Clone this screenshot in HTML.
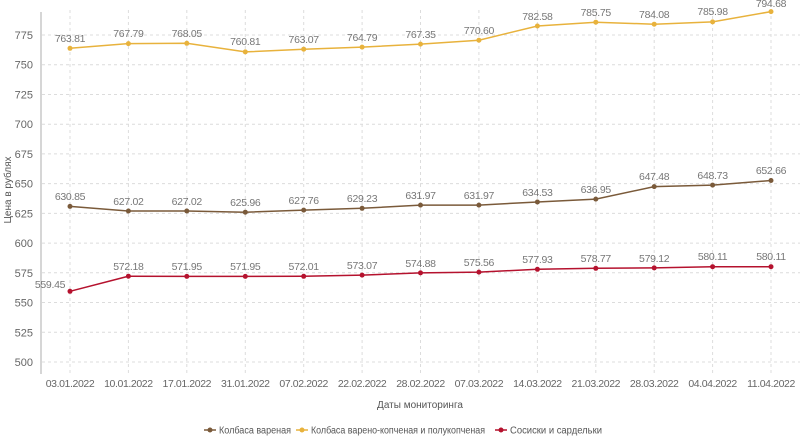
<!DOCTYPE html>
<html><head><meta charset="utf-8"><style>
body{margin:0;background:#fff;}
svg{display:block;font-family:"Liberation Sans",sans-serif;}
.g{stroke:#dcdcdc;stroke-dasharray:3,3;stroke-width:1;}
.yl{font-size:11px;fill:#666;text-anchor:end;}
.xl{font-size:10.5px;fill:#666;text-anchor:middle;letter-spacing:-0.4px;}
.dl{font-size:10.5px;fill:#777;text-anchor:middle;letter-spacing:-0.3px;}
</style></head><body>
<svg width="800" height="437" viewBox="0 0 800 437">
<g class="g">
<line x1="42" x2="800" y1="35" y2="35"/><line x1="42" x2="800" y1="64.7" y2="64.7"/><line x1="42" x2="800" y1="94.5" y2="94.5"/><line x1="42" x2="800" y1="124.2" y2="124.2"/><line x1="42" x2="800" y1="153.9" y2="153.9"/><line x1="42" x2="800" y1="183.6" y2="183.6"/><line x1="42" x2="800" y1="213.4" y2="213.4"/><line x1="42" x2="800" y1="243.1" y2="243.1"/><line x1="42" x2="800" y1="272.8" y2="272.8"/><line x1="42" x2="800" y1="302.5" y2="302.5"/><line x1="42" x2="800" y1="332.3" y2="332.3"/><line x1="42" x2="800" y1="362" y2="362"/>
<line x1="70" x2="70" y1="10" y2="374"/><line x1="128.4" x2="128.4" y1="10" y2="374"/><line x1="186.8" x2="186.8" y1="10" y2="374"/><line x1="245.3" x2="245.3" y1="10" y2="374"/><line x1="303.7" x2="303.7" y1="10" y2="374"/><line x1="362.1" x2="362.1" y1="10" y2="374"/><line x1="420.5" x2="420.5" y1="10" y2="374"/><line x1="478.9" x2="478.9" y1="10" y2="374"/><line x1="537.4" x2="537.4" y1="10" y2="374"/><line x1="595.8" x2="595.8" y1="10" y2="374"/><line x1="654.2" x2="654.2" y1="10" y2="374"/><line x1="712.6" x2="712.6" y1="10" y2="374"/><line x1="771" x2="771" y1="10" y2="374"/>
</g>
<line x1="41" x2="41" y1="12" y2="374" stroke="#c8c8c8" stroke-width="1.5"/>
<g class="yl">
<text x="33" y="39">775</text><text x="33" y="68.7">750</text><text x="33" y="98.5">725</text><text x="33" y="128.2">700</text><text x="33" y="157.9">675</text><text x="33" y="187.6">650</text><text x="33" y="217.4">625</text><text x="33" y="247.1">600</text><text x="33" y="276.8">575</text><text x="33" y="306.5">550</text><text x="33" y="336.3">525</text><text x="33" y="366">500</text>
</g>
<text transform="translate(11,190) rotate(-90)" font-size="10" fill="#555" text-anchor="middle">Цена в рублях</text>
<g class="xl">
<text x="70" y="387">03.01.2022</text><text x="128.4" y="387">10.01.2022</text><text x="186.8" y="387">17.01.2022</text><text x="245.3" y="387">31.01.2022</text><text x="303.7" y="387">07.02.2022</text><text x="362.1" y="387">22.02.2022</text><text x="420.5" y="387">28.02.2022</text><text x="478.9" y="387">07.03.2022</text><text x="537.4" y="387">14.03.2022</text><text x="595.8" y="387">21.03.2022</text><text x="654.2" y="387">28.03.2022</text><text x="712.6" y="387">04.04.2022</text><text x="771" y="387">11.04.2022</text>
</g>
<text x="420" y="408" font-size="10" fill="#555" text-anchor="middle">Даты мониторинга</text>

<polyline fill="none" stroke="#e8b23c" stroke-width="1.5" points="70,48.3 128.4,43.6 186.8,43.3 245.3,51.9 303.7,49.2 362.1,47.1 420.5,44.1 478.9,40.2 537.4,26 595.8,22.2 654.2,24.2 712.6,21.9 771,11.6"/>
<g fill="#e8b23c"><circle cx="70" cy="48.3" r="2.5"/><circle cx="128.4" cy="43.6" r="2.5"/><circle cx="186.8" cy="43.3" r="2.5"/><circle cx="245.3" cy="51.9" r="2.5"/><circle cx="303.7" cy="49.2" r="2.5"/><circle cx="362.1" cy="47.1" r="2.5"/><circle cx="420.5" cy="44.1" r="2.5"/><circle cx="478.9" cy="40.2" r="2.5"/><circle cx="537.4" cy="26" r="2.5"/><circle cx="595.8" cy="22.2" r="2.5"/><circle cx="654.2" cy="24.2" r="2.5"/><circle cx="712.6" cy="21.9" r="2.5"/><circle cx="771" cy="11.6" r="2.5"/></g>
<g class="dl">
<text x="70" y="42">763.81</text><text x="128.4" y="37">767.79</text><text x="186.8" y="37">768.05</text><text x="245.3" y="45">760.81</text><text x="303.7" y="43">763.07</text><text x="362.1" y="41">764.79</text><text x="420.5" y="38">767.35</text><text x="478.9" y="34">770.60</text><text x="537.4" y="20">782.58</text><text x="595.8" y="16">785.75</text><text x="654.2" y="18">784.08</text><text x="712.6" y="15">785.98</text><text x="771" y="7">794.68</text>
</g>

<polyline fill="none" stroke="#7a5a3a" stroke-width="1.5" points="70,206.4 128.4,211 186.8,211 245.3,212.2 303.7,210.1 362.1,208.3 420.5,205.1 478.9,205.1 537.4,202 595.8,199.1 654.2,186.6 712.6,185.1 771,180.5"/>
<g fill="#7a5a3a"><circle cx="70" cy="206.4" r="2.5"/><circle cx="128.4" cy="211" r="2.5"/><circle cx="186.8" cy="211" r="2.5"/><circle cx="245.3" cy="212.2" r="2.5"/><circle cx="303.7" cy="210.1" r="2.5"/><circle cx="362.1" cy="208.3" r="2.5"/><circle cx="420.5" cy="205.1" r="2.5"/><circle cx="478.9" cy="205.1" r="2.5"/><circle cx="537.4" cy="202" r="2.5"/><circle cx="595.8" cy="199.1" r="2.5"/><circle cx="654.2" cy="186.6" r="2.5"/><circle cx="712.6" cy="185.1" r="2.5"/><circle cx="771" cy="180.5" r="2.5"/></g>
<g class="dl">
<text x="70" y="200">630.85</text><text x="128.4" y="205">627.02</text><text x="186.8" y="205">627.02</text><text x="245.3" y="206">625.96</text><text x="303.7" y="204">627.76</text><text x="362.1" y="202">629.23</text><text x="420.5" y="199">631.97</text><text x="478.9" y="199">631.97</text><text x="537.4" y="196">634.53</text><text x="595.8" y="193">636.95</text><text x="654.2" y="180">647.48</text><text x="712.6" y="179">648.73</text><text x="771" y="174">652.66</text>
</g>

<polyline fill="none" stroke="#b5122e" stroke-width="1.5" points="70,291.3 128.4,276.2 186.8,276.4 245.3,276.4 303.7,276.3 362.1,275.1 420.5,272.9 478.9,272.1 537.4,269.3 595.8,268.3 654.2,267.9 712.6,266.7 771,266.7"/>
<g fill="#b5122e"><circle cx="70" cy="291.3" r="2.5"/><circle cx="128.4" cy="276.2" r="2.5"/><circle cx="186.8" cy="276.4" r="2.5"/><circle cx="245.3" cy="276.4" r="2.5"/><circle cx="303.7" cy="276.3" r="2.5"/><circle cx="362.1" cy="275.1" r="2.5"/><circle cx="420.5" cy="272.9" r="2.5"/><circle cx="478.9" cy="272.1" r="2.5"/><circle cx="537.4" cy="269.3" r="2.5"/><circle cx="595.8" cy="268.3" r="2.5"/><circle cx="654.2" cy="267.9" r="2.5"/><circle cx="712.6" cy="266.7" r="2.5"/><circle cx="771" cy="266.7" r="2.5"/></g>
<g class="dl">
<text x="50" y="288">559.45</text><text x="128.4" y="270">572.18</text><text x="186.8" y="270">571.95</text><text x="245.3" y="270">571.95</text><text x="303.7" y="270">572.01</text><text x="362.1" y="269">573.07</text><text x="420.5" y="267">574.88</text><text x="478.9" y="266">575.56</text><text x="537.4" y="263">577.93</text><text x="595.8" y="262">578.77</text><text x="654.2" y="262">579.12</text><text x="712.6" y="260">580.11</text><text x="771" y="260">580.11</text>
</g>

<g font-size="10" fill="#555">
<line x1="204" x2="216" y1="430" y2="430" stroke="#7a5a3a" stroke-width="1.5"/><circle cx="210" cy="430" r="2.5" fill="#7a5a3a"/>
<text x="219" y="433.5" textLength="72" lengthAdjust="spacingAndGlyphs">Колбаса вареная</text>
<line x1="296" x2="308" y1="430" y2="430" stroke="#e8b23c" stroke-width="1.5"/><circle cx="302" cy="430" r="2.5" fill="#e8b23c"/>
<text x="311" y="433.5" textLength="174" lengthAdjust="spacingAndGlyphs">Колбаса варено-копченая и полукопченая</text>
<line x1="495" x2="507" y1="430" y2="430" stroke="#b5122e" stroke-width="1.5"/><circle cx="501" cy="430" r="2.5" fill="#b5122e"/>
<text x="510" y="433.5" textLength="92" lengthAdjust="spacingAndGlyphs">Сосиски и сардельки</text>
</g>
</svg>
</body></html>
